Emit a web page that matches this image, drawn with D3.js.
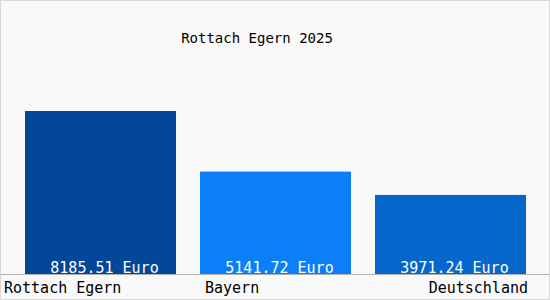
<!DOCTYPE html>
<html lang="de">
<head>
  <meta charset="UTF-8">
  <title>Rottach Egern 2025</title>
  <script src="https://d3js.org/d3.v7.min.js"></script>
  <style>
    body { margin: 0; }
    text { font-family: "DejaVu Sans Mono", monospace; }
  </style>
</head>
<body>
<script>
  // Data
  const title = 'Rottach Egern 2025';
  const regions = ['Rottach Egern', 'Bayern', 'Deutschland'];
  const values = [8185.51, 5141.72, 3971.24];
  const colors = ['#03479a', '#0a7ff8', '#0566cc'];

  const width = 550, height = 300;
  const baseY = 274;

  const svg = d3.select('body').append('svg')
    .attr('width', width)
    .attr('height', height);

  // background + frame
  svg.append('rect')
    .attr('x', 0.5).attr('y', 0.5)
    .attr('width', width - 1).attr('height', height - 1)
    .attr('fill', '#f9f9f9')
    .attr('stroke', '#d8d8d8');

  const x = d3.scaleBand()
    .domain(regions)
    .range([13, 538])
    .paddingInner(24 / 175)
    .paddingOuter(12 / 175);

  const y = d3.scaleLinear()
    .domain([0, d3.max(values) * 1.2])
    .range([baseY, baseY - 163 * 1.2]);

  // title
  svg.append('text')
    .attr('x', 257)
    .attr('y', 43)
    .attr('text-anchor', 'middle')
    .style('font-size', '14px')
    .text(title);

  // bars
  svg.selectAll('rect.bar')
    .data(values)
    .join('rect')
    .attr('class', 'bar')
    .attr('x', (d, i) => x(regions[i]))
    .attr('y', d => y(d))
    .attr('width', x.bandwidth())
    .attr('height', d => y(0) - y(d))
    .attr('fill', (d, i) => colors[i]);

  // baseline
  svg.append('line')
    .attr('x1', 1).attr('x2', width - 1)
    .attr('y1', baseY + 0.5).attr('y2', baseY + 0.5)
    .attr('stroke', '#b0b0b0');

  // value labels
  svg.selectAll('text.val')
    .data(values)
    .join('text')
    .attr('class', 'val')
    .attr('x', (d, i) => x(regions[i]) + x.bandwidth() / 2 + 4)
    .attr('y', baseY - 1)
    .attr('text-anchor', 'middle')
    .attr('fill', '#ffffff')
    .style('font-size', '15px')
    .text(d => d.toFixed(2) + ' Euro');

  // category labels
  svg.selectAll('text.cat')
    .data(regions)
    .join('text')
    .attr('class', 'cat')
    .attr('x', (d, i) => i === 0 ? 4 : i === regions.length - 1 ? x(d) + x.bandwidth() + 2 : x(d) + 5)
    .attr('y', 293)
    .attr('text-anchor', (d, i) => i === regions.length - 1 ? 'end' : 'start')
    .style('font-size', '15px')
    .text(d => d);
</script>
</body>
</html>
